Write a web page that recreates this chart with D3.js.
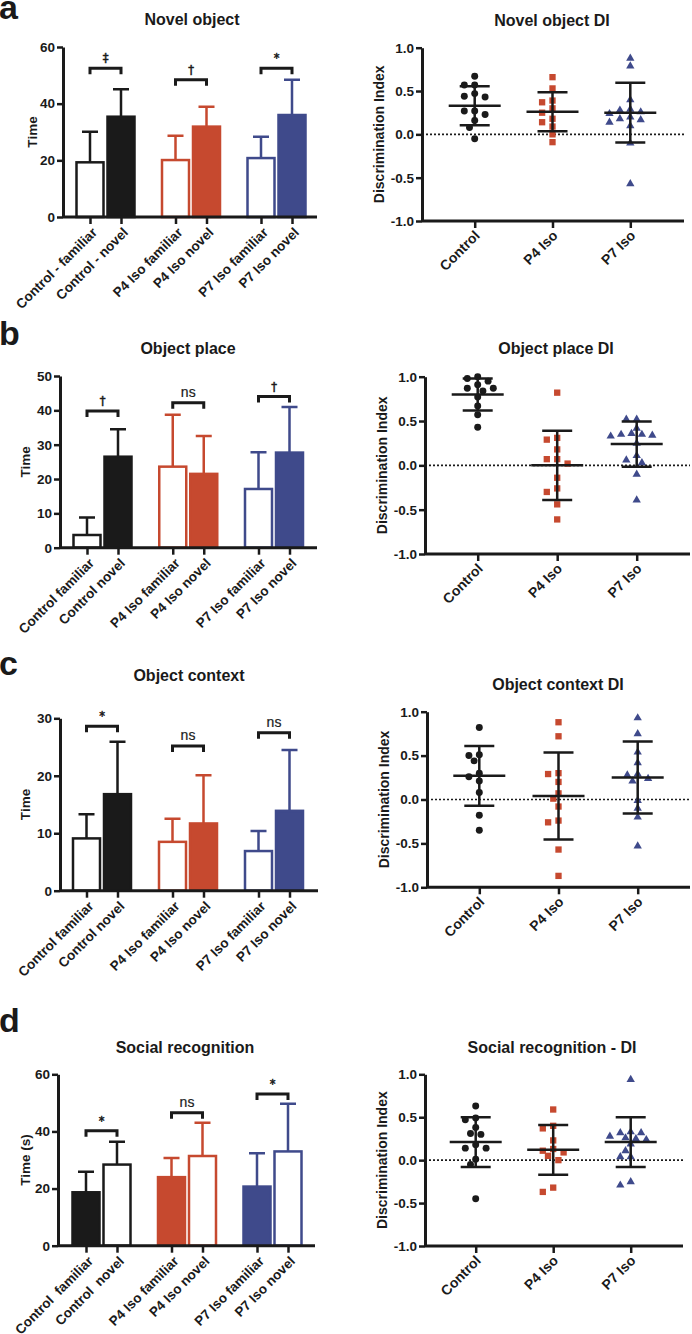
<!DOCTYPE html>
<html><head><meta charset="utf-8">
<script src="https://cdn.jsdelivr.net/npm/d3@7"></script>
<style>
body{margin:0;background:#fff;}
svg{display:block;font-family:"Liberation Sans",Arial,Helvetica,sans-serif;}
</style></head><body>
<svg id="chart" width="692" height="1334"></svg>
<script>
// ---------------- DATA ----------------
const groups = ["Control", "P4 Iso", "P7 Iso"];
const conditions = ["familiar", "novel"];

// a – Novel object
const novelObjectLabels = ["Control - familiar", "Control - novel", "P4 Iso familiar", "P4 Iso novel", "P7 Iso familiar", "P7 Iso novel"];
const novelObjectMean = [19.3, 35.4, 20.1, 31.9, 20.8, 36.0];
const novelObjectSD = [10.8, 9.7, 8.6, 7.0, 7.5, 12.4];
const novelObjectSig = ["‡", "†", "*"];
const novelObjectBracket = [52.5, 48.4, 52.5];
const novelObjectTicks = [0, 20, 40, 60];
const novelObjectDIControl = [0.67, 0.57, 0.57, 0.44, 0.43, 0.47, 0.27, 0.27, 0.23, 0.16, 0.08, -0.05];
const novelObjectDIP4 = [0.66, 0.53, 0.39, 0.37, 0.30, 0.25, 0.18, 0.14, 0.09, 0.00, -0.09];
const novelObjectDIP7 = [0.89, 0.80, 0.41, 0.30, 0.21, 0.18, 0.27, 0.25, 0.29, 0.19, 0.15, 0.11, -0.09, -0.56];
const novelObjectDIMean = [0.33, 0.26, 0.25];
const novelObjectDISD = [0.225, 0.225, 0.345];

// b – Object place
const objectPlaceLabels = ["Control familiar", "Control novel", "P4 Iso familiar", "P4 Iso novel", "P7 Iso familiar", "P7 Iso novel"];
const objectPlaceMean = [3.7, 26.5, 23.6, 21.5, 17.1, 27.7];
const objectPlaceSD = [5.1, 8.0, 15.1, 11.0, 10.7, 13.3];
const objectPlaceSig = ["†", "ns", "†"];
const objectPlaceBracket = [39.8, 42.2, 44.0];
const objectPlaceTicks = [0, 10, 20, 30, 40, 50];
const objectPlaceDIControl = [1.00, 0.95, 0.98, 0.91, 0.87, 0.87, 0.84, 0.77, 0.67, 0.57, 0.43];
const objectPlaceDIP4 = [0.82, 0.29, 0.31, 0.18, 0.07, 0.07, 0.02, -0.14, -0.30, -0.26, -0.44, -0.61];
const objectPlaceDIP7 = [0.53, 0.53, 0.37, 0.36, 0.34, 0.36, 0.35, 0.43, 0.26, 0.12, 0.07, 0.04, -0.09, -0.38];
const objectPlaceDIMean = [0.80, 0.00, 0.24];
const objectPlaceDISD = [0.18, 0.39, 0.255];

// c – Object context
const objectContextLabels = ["Control familiar", "Control novel", "P4 Iso familiar", "P4 Iso novel", "P7 Iso familiar", "P7 Iso novel"];
const objectContextMean = [9.1, 16.8, 8.5, 11.7, 6.9, 13.9];
const objectContextSD = [4.2, 9.1, 4.0, 8.4, 3.5, 10.6];
const objectContextSig = ["*", "ns", "ns"];
const objectContextBracket = [28.6, 25.2, 27.5];
const objectContextTicks = [0, 10, 20, 30];
const objectContextDIControl = [0.82, 0.51, 0.44, 0.50, 0.26, 0.30, 0.21, 0.08, -0.18, -0.35];
const objectContextDIP4 = [0.88, 0.72, 0.29, 0.30, 0.20, 0.07, 0.01, -0.08, -0.26, -0.24, -0.57, -0.87];
const objectContextDIP7 = [0.94, 0.76, 0.55, 0.43, 0.30, 0.25, 0.22, 0.29, 0.00, -0.09, -0.19, -0.52];
const objectContextDIMean = [0.27, 0.04, 0.25];
const objectContextDISD = [0.34, 0.495, 0.41];

// d – Social recognition
const socialLabels = ["Control  familiar", "Control  novel", "P4 Iso familiar", "P4 Iso novel", "P7 Iso familiar", "P7 Iso novel"];
const socialMean = [18.7, 28.4, 24.0, 31.4, 20.7, 33.0];
const socialSD = [7.2, 8.0, 6.7, 11.6, 11.7, 16.7];
const socialSig = ["*", "ns", "*"];
const socialBracket = [40.2, 46.5, 53.1];
const socialTicks = [0, 20, 40, 60];
const socialDIControl = [0.63, 0.47, 0.49, 0.31, 0.30, 0.38, 0.18, 0.14, 0.14, 0.01, -0.05, -0.45];
const socialDIP4 = [0.59, 0.40, 0.37, 0.23, 0.13, 0.11, 0.09, 0.05, 0.00, -0.32, -0.37];
const socialDIP7 = [0.95, 0.29, 0.33, 0.27, 0.33, 0.25, 0.34, 0.26, 0.20, 0.12, 0.05, 0.05, -0.28, -0.24];
const socialDIMean = [0.21, 0.12, 0.21];
const socialDISD = [0.29, 0.29, 0.29];

const diTicks = [-1, -0.5, 0, 0.5, 1];

// ---------------- STYLE ----------------
const INK = "#1a1a1a";
const COLORS = ["#1a1a1a", "#c6492f", "#3f4a8b"];
const svg = d3.select("#chart");

function styleAxis(g, fontSize) {
  g.attr("font-family", null).attr("font-size", null);
  g.select(".domain").attr("stroke", INK).attr("stroke-width", 3);
  g.selectAll(".tick line").attr("stroke", INK).attr("stroke-width", 2.5);
  g.selectAll(".tick text").attr("fill", INK).style("font-weight", "bold").style("font-size", fontSize + "px");
}

function panelLetter(letter, y) {
  svg.append("text").attr("x", -1).attr("y", y).text(letter)
    .style("font-weight", "bold").style("font-size", "34px").attr("fill", INK);
}

function title(text, x, y) {
  svg.append("text").attr("x", x).attr("y", y).attr("text-anchor", "middle").attr("dy", "0.35em")
    .text(text).style("font-weight", "bold").style("font-size", "16px").attr("fill", INK);
}

function barChart(c) {
  const g = svg.append("g");
  const y = d3.scaleLinear().domain([0, c.max]).range([c.y0, c.y1]);
  const xg = d3.scalePoint().domain(groups).range(c.groupRange);
  const xs = d3.scaleBand().domain(conditions).range([-31, 31]);
  const center = i => xg(groups[Math.floor(i / 2)]) + xs(conditions[i % 2]) + xs.bandwidth() / 2;
  const xAxisScale = d3.scaleOrdinal().domain(c.labels).range(c.labels.map((d, i) => center(i)));

  const bars = c.means.map((m, i) => ({
    m, sd: c.sds[i], i, color: COLORS[Math.floor(i / 2)],
    filled: (i % 2 === 1) !== c.familiarFilled
  }));

  // error bars (upward only)
  g.selectAll(".err").data(bars).join("path")
    .attr("d", d => {
      const cx = center(d.i), yt = y(d.m + d.sd);
      return `M${cx},${y(d.m)}V${yt}M${cx - 8},${yt}H${cx + 8}`;
    })
    .attr("stroke", d => d.color).attr("stroke-width", 2.5).attr("fill", "none");

  g.selectAll(".bar").data(bars).join("rect")
    .attr("x", d => center(d.i) - 13.5).attr("width", 27)
    .attr("y", d => y(d.m)).attr("height", d => c.y0 - y(d.m))
    .attr("fill", d => d.filled ? d.color : "#fff")
    .attr("stroke", d => d.color).attr("stroke-width", 2.5);

  // x axis
  g.append("line").attr("x1", c.x0).attr("x2", c.xEnd).attr("y1", c.y0).attr("y2", c.y0)
    .attr("stroke", INK).attr("stroke-width", 3);
  const xa = g.append("g").attr("transform", `translate(0,${c.y0})`)
    .call(d3.axisBottom(xAxisScale).tickSize(7).tickSizeOuter(0));
  xa.select(".domain").remove();
  styleAxis(xa, 13.5);
  xa.selectAll(".tick text").attr("x", 0).attr("y", 0).attr("dy", "0.35em")
    .attr("transform", "translate(4,13) rotate(-45)").style("text-anchor", "end")
    .style("white-space", "pre");

  // y axis
  const ya = g.append("g").attr("transform", `translate(${c.x0},0)`)
    .call(d3.axisLeft(y).tickValues(c.ticks).tickSize(6).tickSizeOuter(0).tickPadding(2));
  styleAxis(ya, 13.5);

  // significance brackets
  c.bracket.forEach((b, k) => {
    const a1 = center(2 * k), a2 = center(2 * k + 1), yb = y(b);
    g.append("path").attr("d", `M${a1},${yb + 6}V${yb}H${a2}V${yb + 6}`)
      .attr("stroke", INK).attr("stroke-width", 3).attr("fill", "none");
    const ns = c.sig[k] === "ns";
    g.append("text").attr("x", (a1 + a2) / 2).attr("y", yb - 6)
      .attr("text-anchor", "middle").text(c.sig[k]).attr("fill", INK)
      .attr("stroke", INK).attr("stroke-width", ns ? 0.2 : 0.5).attr("opacity", 0.99)
      .style("font-family", ns ? "'Liberation Sans', Arial, sans-serif" : "'DejaVu Sans', sans-serif")
      .style("font-size", ns ? "14px" : "11.5px");
  });

  // y label
  g.append("text").attr("transform", `translate(${c.x0 + c.ylabelDx},${(c.y0 + c.y1) / 2}) rotate(-90)`)
    .attr("text-anchor", "middle").attr("dy", "0.35em").text(c.ylabel)
    .style("font-weight", "bold").style("font-size", "13.5px").attr("fill", INK);
}

function swarm(values, yScale, step, dmin) {
  const pts = values.map(v => ({ v, py: yScale(v), dx: 0 }));
  const order = pts.slice().sort((a, b) => b.v - a.v);
  const placed = [];
  order.forEach(p => {
    for (let k = 0; k < 30; k++) {
      const cands = k === 0 ? [0] : [-k * step, k * step];
      const ok = cands.find(dx => placed.every(q => Math.hypot(q.dx - dx, q.py - p.py) >= dmin));
      if (ok !== undefined) { p.dx = ok; break; }
    }
    placed.push(p);
  });
  return pts;
}

function diChart(c) {
  const g = svg.append("g");
  const y = d3.scaleLinear().domain([-1, 1]).range([c.y0, c.y1]);
  const x = d3.scalePoint().domain(groups).range(c.catRange);

  // zero line
  g.append("line").attr("x1", c.x0).attr("x2", c.xEnd).attr("y1", y(0)).attr("y2", y(0))
    .attr("stroke", INK).attr("stroke-width", 1.6).attr("stroke-dasharray", "2,2");

  const shapes = [d3.symbolCircle, d3.symbolSquare, d3.symbolTriangle];
  const sizes = [38, 40, 30];
  c.series.forEach((vals, k) => {
    const pts = swarm(vals, y, 5.2, 7.2);
    g.selectAll(null).data(pts).join("path")
      .attr("d", d3.symbol().type(shapes[k]).size(sizes[k]))
      .attr("transform", d => `translate(${x(groups[k]) + d.dx},${d.py + (k === 2 ? 1 : 0)})`)
      .attr("fill", COLORS[k]);
  });

  // mean and SD
  groups.forEach((gr, k) => {
    const cx = x(gr), m = c.means[k], s = c.sds[k];
    g.append("path")
      .attr("d", `M${cx - 26},${y(m)}H${cx + 26}M${cx},${y(m - s)}V${y(m + s)}M${cx - 15},${y(m + s)}H${cx + 15}M${cx - 15},${y(m - s)}H${cx + 15}`)
      .attr("stroke", INK).attr("stroke-width", 2.5).attr("fill", "none");
  });

  g.append("line").attr("x1", c.x0).attr("x2", c.xEnd).attr("y1", c.y0).attr("y2", c.y0)
    .attr("stroke", INK).attr("stroke-width", 3);
  const xa = g.append("g").attr("transform", `translate(0,${c.y0})`)
    .call(d3.axisBottom(x).tickSize(7).tickSizeOuter(0));
  xa.select(".domain").remove();
  styleAxis(xa, 14);
  xa.selectAll(".tick text").attr("x", 0).attr("y", 0).attr("dy", "0.35em")
    .attr("transform", "translate(2,12) rotate(-45)").style("text-anchor", "end");

  const ya = g.append("g").attr("transform", `translate(${c.x0},0)`)
    .call(d3.axisLeft(y).tickValues(diTicks).tickFormat(d3.format(".1f")).tickSize(6).tickSizeOuter(0).tickPadding(2));
  styleAxis(ya, 13.5);
  ya.selectAll(".tick text").text(d => d3.format(".1f")(d).replace("−", "-"));

  g.append("text").attr("transform", `translate(${c.x0 - 43},${(c.y0 + c.y1) / 2}) rotate(-90)`)
    .attr("text-anchor", "middle").attr("dy", "0.35em").text("Discrimination Index")
    .style("font-weight", "bold").style("font-size", "14px").attr("fill", INK);
}

// ---------------- PANELS ----------------
panelLetter("a", 19);
title("Novel object", 192, 19);
title("Novel object DI", 552, 20);
barChart({ x0: 63, xEnd: 317, y0: 217, y1: 47, max: 60, ticks: novelObjectTicks, groupRange: [105.5, 276.5],
  labels: novelObjectLabels, means: novelObjectMean, sds: novelObjectSD, sig: novelObjectSig,
  bracket: novelObjectBracket, familiarFilled: false, ylabel: "Time", ylabelDx: -31 });
diChart({ x0: 422, xEnd: 684, y0: 221, y1: 47.7, catRange: [474.7, 630.3],
  series: [novelObjectDIControl, novelObjectDIP4, novelObjectDIP7], means: novelObjectDIMean, sds: novelObjectDISD });

panelLetter("b", 345);
title("Object place", 188, 348);
title("Object place DI", 556, 348);
barChart({ x0: 60, xEnd: 317, y0: 547.7, y1: 376, max: 50, ticks: objectPlaceTicks, groupRange: [102.5, 274],
  labels: objectPlaceLabels, means: objectPlaceMean, sds: objectPlaceSD, sig: objectPlaceSig,
  bracket: objectPlaceBracket, familiarFilled: false, ylabel: "Time", ylabelDx: -35 });
diChart({ x0: 425, xEnd: 690, y0: 554, y1: 376.7, catRange: [477.7, 636.7],
  series: [objectPlaceDIControl, objectPlaceDIP4, objectPlaceDIP7], means: objectPlaceDIMean, sds: objectPlaceDISD });

panelLetter("c", 675);
title("Object context", 189, 675);
title("Object context DI", 558, 684);
barChart({ x0: 60, xEnd: 318, y0: 890.7, y1: 718.3, max: 30, ticks: objectContextTicks, groupRange: [102, 274],
  labels: objectContextLabels, means: objectContextMean, sds: objectContextSD, sig: objectContextSig,
  bracket: objectContextBracket, familiarFilled: false, ylabel: "Time", ylabelDx: -35 });
diChart({ x0: 427, xEnd: 690, y0: 887.3, y1: 711.7, catRange: [479.3, 637.7],
  series: [objectContextDIControl, objectContextDIP4, objectContextDIP7], means: objectContextDIMean, sds: objectContextDISD });

panelLetter("d", 1032);
title("Social recognition", 185, 1047);
title("Social recognition - DI", 552, 1047);
barChart({ x0: 58, xEnd: 315, y0: 1245.7, y1: 1074.3, max: 60, ticks: socialTicks, groupRange: [101.5, 272.5],
  labels: socialLabels, means: socialMean, sds: socialSD, sig: socialSig,
  bracket: socialBracket, familiarFilled: true, ylabel: "Time (s)", ylabelDx: -33 });
diChart({ x0: 425, xEnd: 683, y0: 1246, y1: 1074.3, catRange: [475.7, 630.7],
  series: [socialDIControl, socialDIP4, socialDIP7], means: socialDIMean, sds: socialDISD });
</script>
</body></html>
